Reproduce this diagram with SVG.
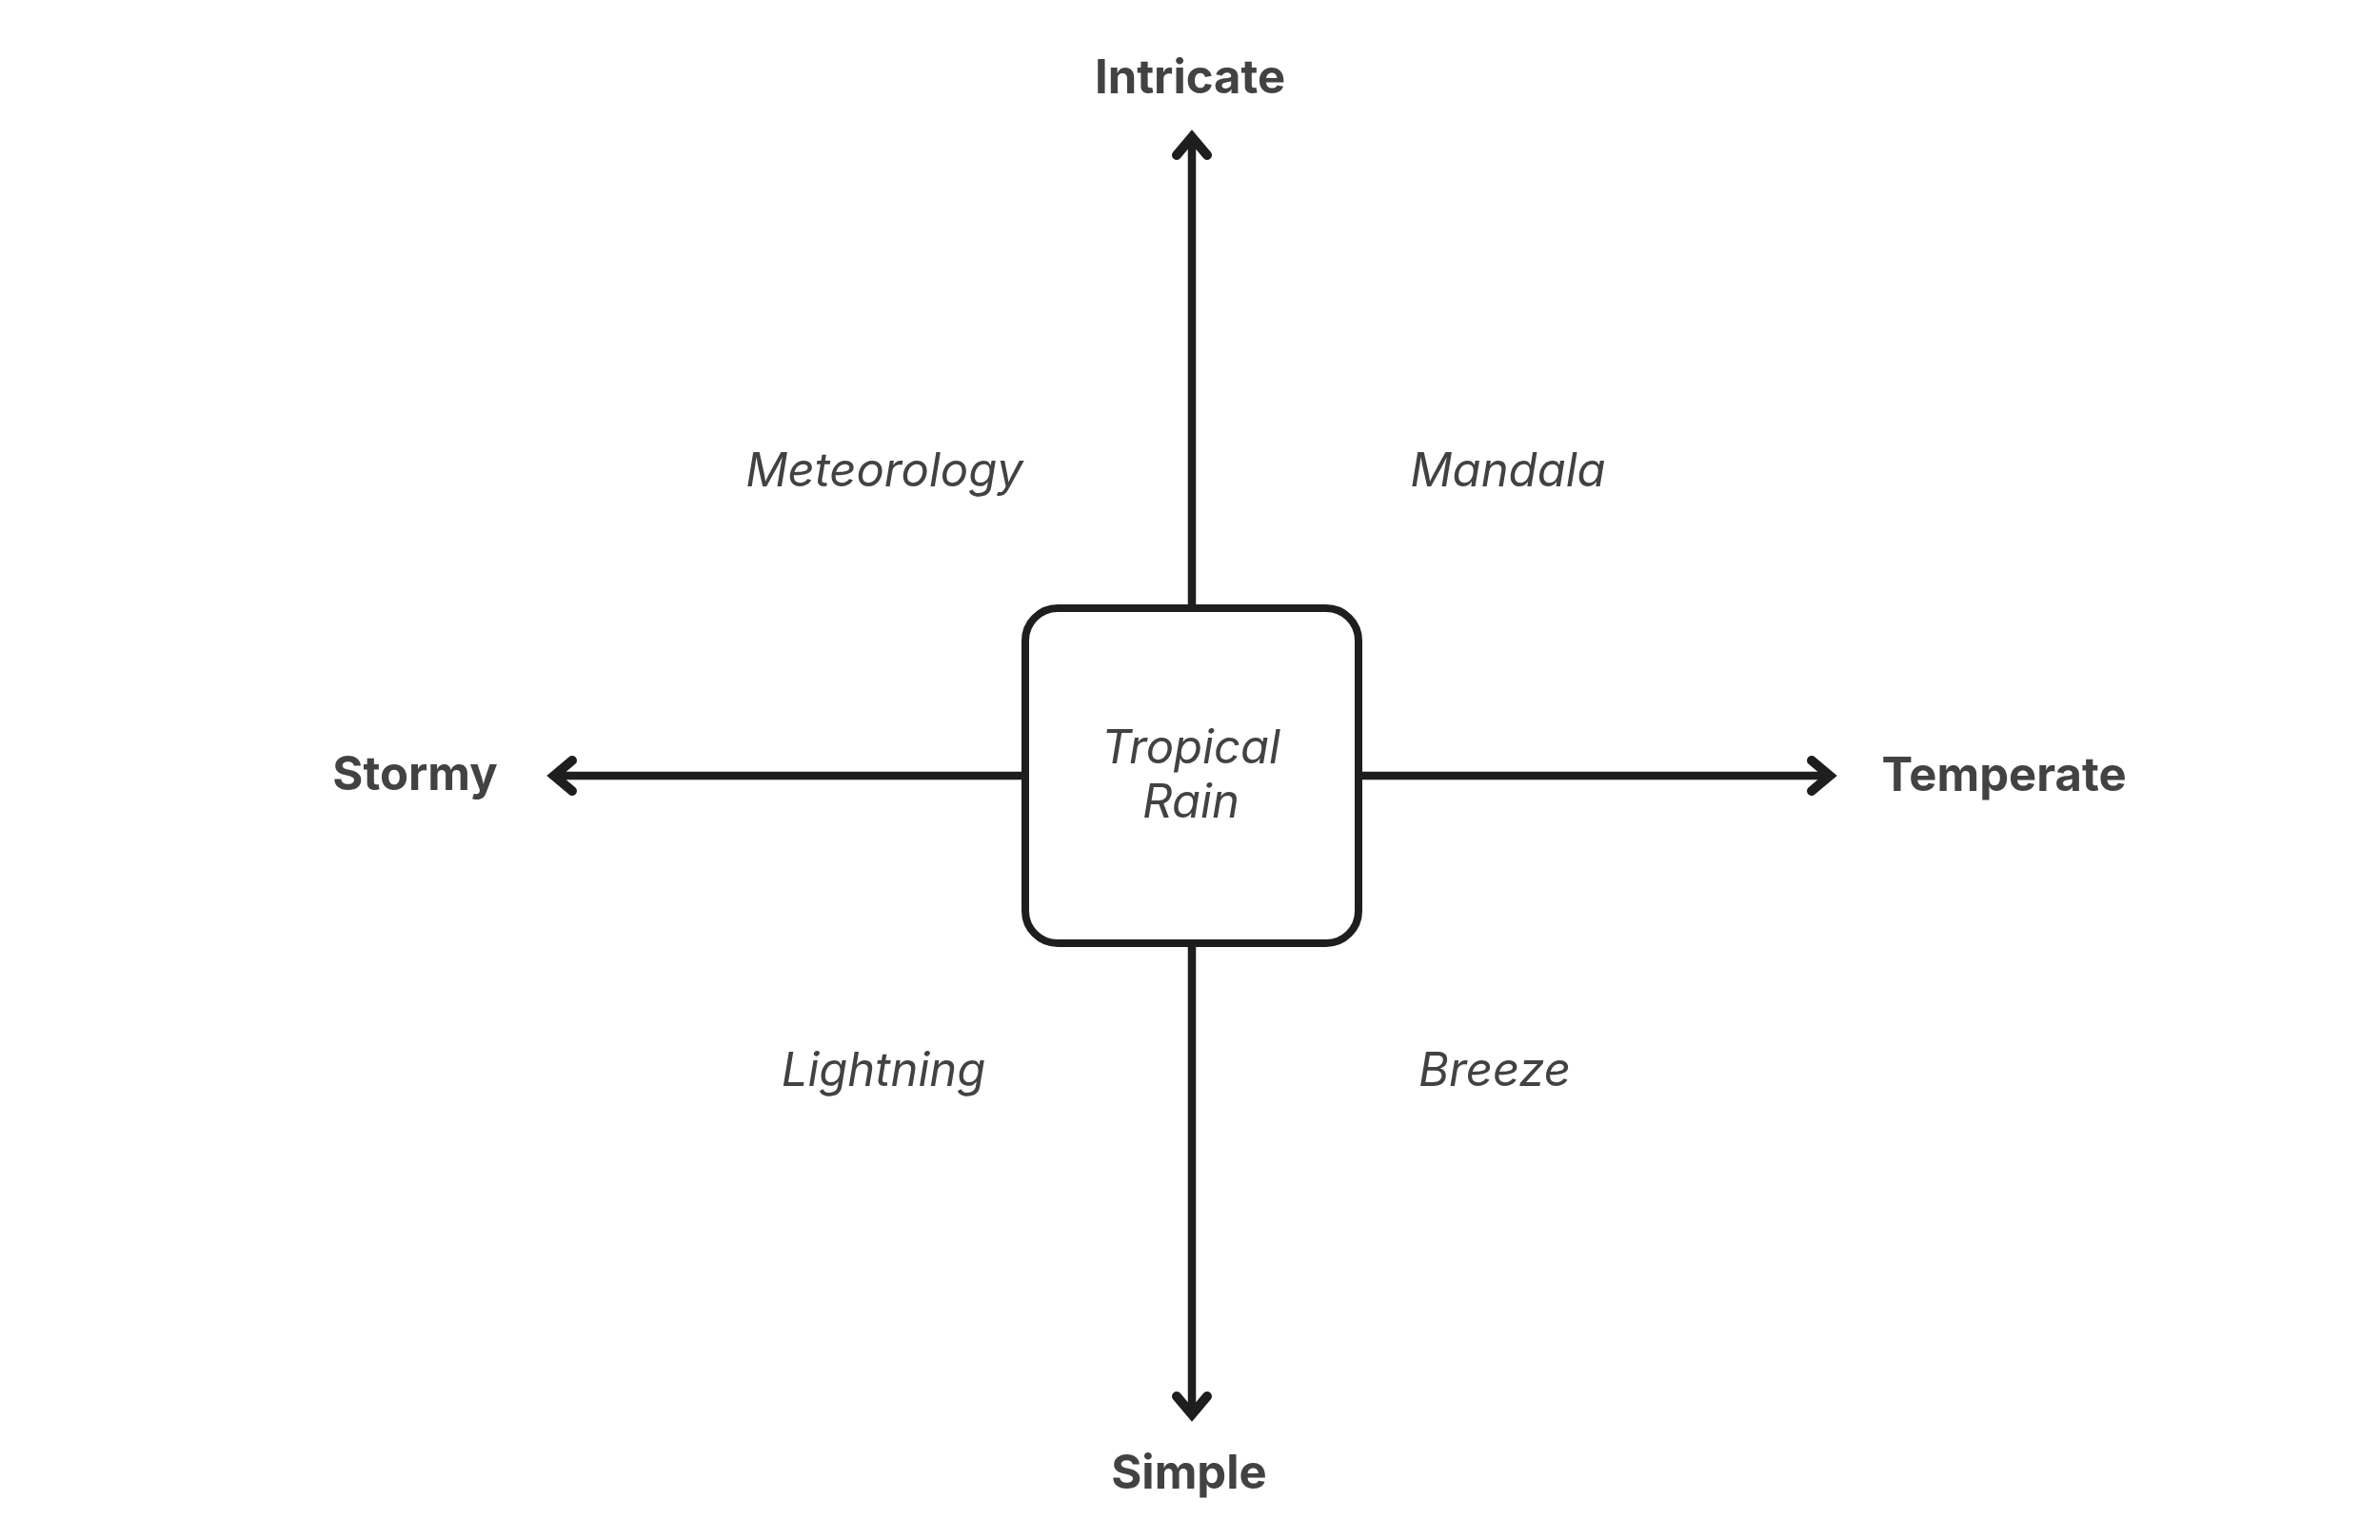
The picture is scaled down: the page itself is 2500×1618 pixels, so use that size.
<svg xmlns="http://www.w3.org/2000/svg" width="2500" height="1618" viewBox="0 0 2500 1618">
  <defs>
    <style>
      .axis { fill: #424242; font-family: Inter, "Liberation Sans", sans-serif; font-weight: 700; font-size: 49px; text-anchor: middle; }
      .quad { fill: #424242; font-family: Inter, "Liberation Sans", sans-serif; font-style: italic; font-weight: 400; font-size: 49px; text-anchor: middle; }
      .conn { stroke: #1e1e1e; stroke-width: 8.5; fill: none; stroke-linecap: round; }
      .node { fill: #ffffff; stroke: #1e1e1e; stroke-width: 8; }
    </style>
    <marker id="arrow" markerUnits="userSpaceOnUse" viewBox="-30 -25 40 50" markerWidth="40" markerHeight="50" refX="0" refY="0" orient="auto" overflow="visible">
      <path d="M -19 -16 L 0 0 L -19 16" fill="none" stroke="#1e1e1e" stroke-width="10" stroke-linecap="round" stroke-linejoin="miter"/>
    </marker>
  </defs>
  <rect width="2500" height="1618" fill="#ffffff"/>

  <g id="connectors">
    <line class="conn" x1="1252" y1="635" x2="1252" y2="144" marker-end="url(#arrow)"/>
    <line class="conn" x1="1252" y1="995" x2="1252" y2="1486" marker-end="url(#arrow)"/>
    <line class="conn" x1="1073" y1="815" x2="582" y2="815" marker-end="url(#arrow)"/>
    <line class="conn" x1="1431" y1="815" x2="1922" y2="815" marker-end="url(#arrow)"/>
  </g>

  <g id="node-center">
    <rect class="node" x="1077" y="639" width="350" height="352" rx="34" ry="34"/>
    <text class="quad" x="1251" y="802">Tropical</text>
    <text class="quad" x="1251" y="859">Rain</text>
  </g>

  <g id="label-intricate"><text class="axis" x="1250" y="98">Intricate</text></g>
  <g id="label-simple"><text class="axis" x="1249" y="1564">Simple</text></g>
  <g id="label-stormy"><text class="axis" x="436" y="830">Stormy</text></g>
  <g id="label-temperate"><text class="axis" x="2105" y="831">Temperate</text></g>

  <g id="quad-meteorology"><text class="quad" x="929" y="511">Meteorology</text></g>
  <g id="quad-mandala"><text class="quad" x="1584" y="511">Mandala</text></g>
  <g id="quad-lightning"><text class="quad" x="928" y="1141">Lightning</text></g>
  <g id="quad-breeze"><text class="quad" x="1570" y="1141">Breeze</text></g>
</svg>
